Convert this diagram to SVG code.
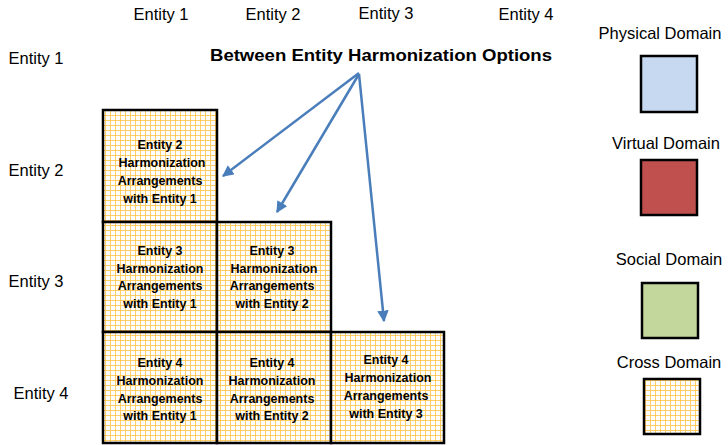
<svg xmlns="http://www.w3.org/2000/svg" width="728" height="445" viewBox="0 0 728 445">
  <defs>
    <!-- light orange grid fill for cross-domain cells -->
    <pattern id="grid" width="5" height="5" patternUnits="userSpaceOnUse">
      <rect width="5" height="5" fill="#ffffff"/>
      <path d="M0.5 0 V5 M0 0.5 H5" stroke="#FFC64F" stroke-width="1" fill="none" opacity="0.85"/>
    </pattern>
    <marker id="arrow" viewBox="0 0 10 10" refX="9" refY="5" markerWidth="4.6" markerHeight="4.6" orient="auto" markerUnits="strokeWidth">
      <path d="M0 0 L10 5 L0 10 Z" fill="#4A7EBB"/>
    </marker>
  </defs>
  <style>
    .lbl { font-family: "Liberation Sans", Arial, sans-serif; font-size: 16.5px; fill: #000; text-anchor: middle; }
    .cell rect { fill: url(#grid); stroke: #000; stroke-width: 2.5; }
    .cell text { font-family: "Liberation Sans", Arial, sans-serif; font-size: 12.5px; font-weight: bold; fill: #000; text-anchor: middle; }
    .sw { stroke: #000; stroke-width: 2.5; }
    .conn path { stroke: #4A7EBB; stroke-width: 2.5; fill: none; marker-end: url(#arrow); }
  </style>

  <!-- column headers -->
  <g id="col-headers">
    <text class="lbl" x="161" y="20">Entity 1</text>
    <text class="lbl" x="273" y="20">Entity 2</text>
    <text class="lbl" x="386" y="19">Entity 3</text>
    <text class="lbl" x="526" y="20">Entity 4</text>
  </g>

  <!-- row headers -->
  <g id="row-headers">
    <text class="lbl" x="36" y="64">Entity 1</text>
    <text class="lbl" x="36" y="176">Entity 2</text>
    <text class="lbl" x="36" y="287">Entity 3</text>
    <text class="lbl" x="41" y="399">Entity 4</text>
  </g>

  <g id="title">
    <text x="381" y="61" font-family="Liberation Sans, Arial, sans-serif" font-size="16.5" font-weight="bold" text-anchor="middle" textLength="342" lengthAdjust="spacingAndGlyphs">Between Entity Harmonization Options</text>
  </g>

  <!-- harmonization cells -->
  <g id="cell-2-1" class="cell">
    <rect x="103" y="110" width="114" height="112"/>
    <text x="160" y="149">Entity 2</text>
    <text x="162" y="167">Harmonization</text>
    <text x="160" y="185">Arrangements</text>
    <text x="160" y="203">with Entity 1</text>
  </g>
  <g id="cell-3-1" class="cell">
    <rect x="103" y="222" width="114" height="110"/>
    <text x="160" y="255">Entity 3</text>
    <text x="160" y="273">Harmonization</text>
    <text x="160" y="290">Arrangements</text>
    <text x="160" y="308">with Entity 1</text>
  </g>
  <g id="cell-3-2" class="cell">
    <rect x="217" y="222" width="114" height="110"/>
    <text x="272" y="255">Entity 3</text>
    <text x="274" y="273">Harmonization</text>
    <text x="272" y="290">Arrangements</text>
    <text x="272" y="308">with Entity 2</text>
  </g>
  <g id="cell-4-1" class="cell">
    <rect x="103" y="332" width="114" height="111"/>
    <text x="160" y="367">Entity 4</text>
    <text x="160" y="385">Harmonization</text>
    <text x="160" y="403">Arrangements</text>
    <text x="160" y="420">with Entity 1</text>
  </g>
  <g id="cell-4-2" class="cell">
    <rect x="217" y="332" width="114" height="111"/>
    <text x="272" y="367">Entity 4</text>
    <text x="272" y="385">Harmonization</text>
    <text x="272" y="403">Arrangements</text>
    <text x="272" y="420">with Entity 2</text>
  </g>
  <g id="cell-4-3" class="cell">
    <rect x="331" y="332" width="113" height="111"/>
    <text x="386" y="364">Entity 4</text>
    <text x="388" y="382">Harmonization</text>
    <text x="386" y="400">Arrangements</text>
    <text x="386" y="418">with Entity 3</text>
  </g>

  <!-- arrows from the title to the cells -->
  <g id="connectors" class="conn">
    <path d="M359 73 L223 176"/>
    <path d="M359 74 L277 212"/>
    <path d="M359 74 L384 321"/>
  </g>

  <!-- legend -->
  <g id="legend-physical">
    <text class="lbl" x="660" y="39">Physical Domain</text>
    <rect class="sw" x="641" y="56" width="56" height="56" fill="#C6D9F1"/>
  </g>
  <g id="legend-virtual">
    <text class="lbl" x="666" y="149">Virtual Domain</text>
    <rect class="sw" x="641" y="160" width="56" height="55" fill="#C0504D"/>
  </g>
  <g id="legend-social">
    <text class="lbl" x="669" y="265">Social Domain</text>
    <rect class="sw" x="642" y="283" width="56" height="55" fill="#C3D69B"/>
  </g>
  <g id="legend-cross">
    <text class="lbl" x="669" y="368">Cross Domain</text>
    <rect class="sw" x="644" y="379" width="56" height="55" fill="url(#grid)"/>
  </g>
</svg>
